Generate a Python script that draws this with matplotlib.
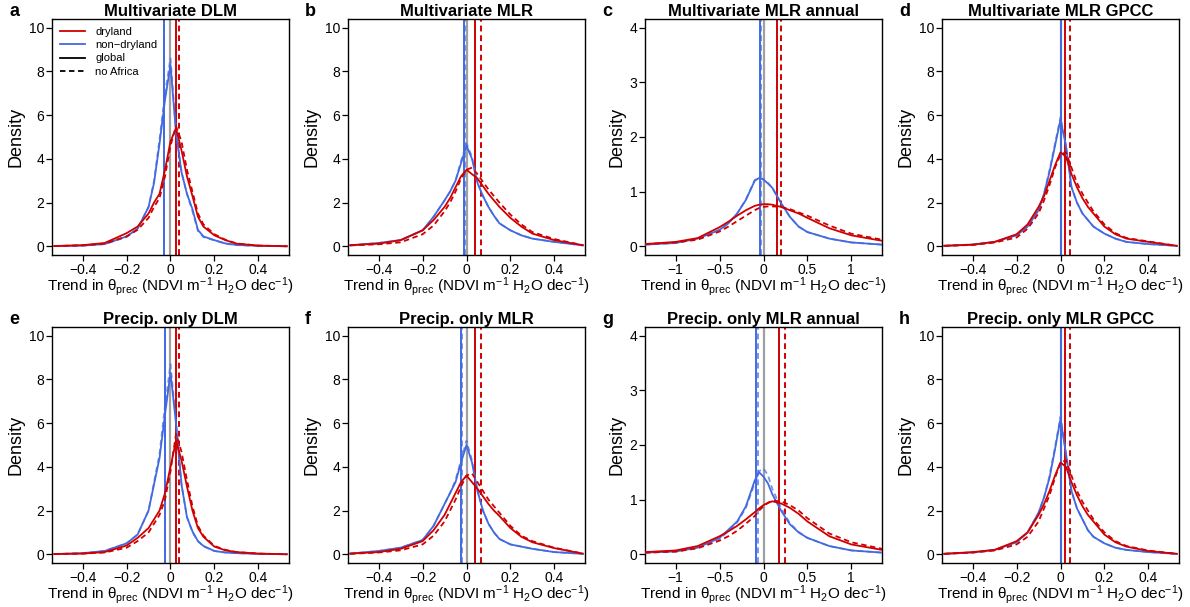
import matplotlib
matplotlib.use("Agg")
import matplotlib.pyplot as plt
from matplotlib.lines import Line2D

plt.rcParams['font.family'] = ['Liberation Sans', 'DejaVu Sans']
plt.rcParams['mathtext.default'] = 'regular'

# x grids of the density curves
xs = [-0.53, -0.4, -0.3, -0.2, -0.15, -0.1, -0.075, -0.05, -0.025, 0, 0.025,
      0.05, 0.075, 0.1, 0.125, 0.15, 0.2, 0.25, 0.3, 0.4, 0.53]
xl = [-1.35, -1.0, -0.75, -0.5, -0.4, -0.3, -0.2, -0.1, -0.05, 0, 0.05, 0.1,
      0.2, 0.3, 0.4, 0.5, 0.75, 1.0, 1.35]

# a  Multivariate DLM
a_dry    = [0.01, 0.05, 0.15, 0.6, 0.9, 1.5, 2.0, 2.4, 3.5, 4.8, 5.4, 4.4, 3.2, 2.3, 1.35, 0.9, 0.5, 0.28, 0.12, 0.03, 0.0]
a_dry_na = [0.01, 0.04, 0.12, 0.45, 0.75, 1.3, 1.8, 2.2, 3.2, 4.6, 5.5, 4.8, 3.5, 2.5, 1.5, 1.0, 0.55, 0.3, 0.13, 0.03, 0.0]
a_wet    = [0.01, 0.03, 0.1, 0.45, 0.8, 1.8, 2.9, 4.7, 6.7, 8.3, 5.2, 3.4, 2.4, 1.7, 0.75, 0.45, 0.28, 0.13, 0.06, 0.02, 0.0]
a_wet_na = [0.01, 0.03, 0.1, 0.42, 0.8, 1.8, 3.0, 4.9, 7.0, 8.6, 5.3, 3.4, 2.4, 1.6, 0.7, 0.42, 0.27, 0.12, 0.05, 0.02, 0.0]
# b  Multivariate MLR
b_dry    = [0.05, 0.12, 0.28, 0.73, 1.2, 1.8, 2.2, 2.7, 3.2, 3.5, 3.3, 3.1, 2.75, 2.4, 2.1, 1.8, 1.3, 0.9, 0.58, 0.28, 0.05]
b_dry_na = [0.04, 0.09, 0.18, 0.55, 0.95, 1.6, 2.0, 2.5, 3.1, 3.5, 3.6, 3.3, 2.95, 2.6, 2.3, 2.0, 1.45, 1.0, 0.65, 0.33, 0.05]
b_wet    = [0.04, 0.15, 0.28, 0.73, 1.35, 2.1, 2.5, 3.0, 3.8, 4.6, 4.0, 2.9, 2.3, 1.8, 1.4, 1.05, 0.73, 0.5, 0.35, 0.2, 0.04]
b_wet_na = [0.04, 0.15, 0.28, 0.73, 1.35, 2.1, 2.5, 3.0, 3.9, 4.7, 4.1, 2.9, 2.3, 1.8, 1.4, 1.05, 0.73, 0.5, 0.35, 0.2, 0.04]
# c  Multivariate MLR annual
c_dry    = [0.04, 0.08, 0.15, 0.35, 0.45, 0.56, 0.66, 0.74, 0.76, 0.77, 0.77, 0.76, 0.72, 0.66, 0.6, 0.52, 0.33, 0.2, 0.1]
c_dry_na = [0.04, 0.07, 0.12, 0.27, 0.36, 0.46, 0.56, 0.66, 0.7, 0.72, 0.73, 0.73, 0.72, 0.68, 0.62, 0.56, 0.38, 0.23, 0.12]
c_wet    = [0.03, 0.06, 0.14, 0.3, 0.42, 0.6, 0.85, 1.2, 1.25, 1.22, 1.15, 1.07, 0.79, 0.54, 0.36, 0.26, 0.14, 0.07, 0.03]
c_wet_na = [0.03, 0.06, 0.14, 0.3, 0.42, 0.6, 0.86, 1.21, 1.26, 1.23, 1.16, 1.07, 0.79, 0.54, 0.36, 0.26, 0.14, 0.07, 0.03]
# d  Multivariate MLR GPCC
d_dry    = [0.02, 0.07, 0.2, 0.55, 1.0, 1.8, 2.3, 3.0, 3.7, 4.3, 4.1, 3.3, 2.7, 2.2, 1.8, 1.5, 0.9, 0.55, 0.35, 0.2, 0.02]
d_dry_na = [0.02, 0.06, 0.17, 0.4, 0.8, 1.5, 2.1, 2.8, 3.6, 4.2, 4.3, 3.6, 2.9, 2.4, 2.0, 1.6, 1.0, 0.6, 0.38, 0.22, 0.02]
d_wet    = [0.02, 0.08, 0.2, 0.5, 0.9, 1.65, 2.4, 3.4, 4.6, 5.8, 4.6, 2.7, 2.0, 1.5, 1.2, 0.9, 0.58, 0.35, 0.2, 0.1, 0.02]
d_wet_na = [0.02, 0.08, 0.2, 0.5, 0.9, 1.65, 2.4, 3.5, 4.7, 5.9, 4.6, 2.7, 2.0, 1.5, 1.2, 0.9, 0.58, 0.35, 0.2, 0.1, 0.02]
# e  Precip. only DLM
e_dry    = [0.01, 0.03, 0.1, 0.4, 0.75, 1.2, 1.6, 2.0, 2.8, 4.0, 5.2, 4.3, 3.1, 2.0, 1.2, 0.8, 0.35, 0.18, 0.1, 0.03, 0.0]
e_dry_na = [0.01, 0.03, 0.08, 0.3, 0.6, 1.0, 1.4, 1.8, 2.5, 3.8, 5.5, 4.7, 3.4, 2.2, 1.3, 0.85, 0.38, 0.2, 0.1, 0.03, 0.0]
e_wet    = [0.01, 0.05, 0.15, 0.5, 0.9, 2.0, 3.2, 4.4, 6.4, 8.3, 6.0, 3.2, 1.7, 1.05, 0.6, 0.38, 0.15, 0.08, 0.05, 0.02, 0.0]
e_wet_na = [0.01, 0.05, 0.15, 0.5, 0.9, 2.0, 3.3, 4.6, 6.8, 8.7, 6.1, 3.2, 1.7, 1.0, 0.6, 0.36, 0.15, 0.08, 0.05, 0.02, 0.0]
# f  Precip. only MLR
f_dry    = [0.03, 0.1, 0.25, 0.6, 1.1, 1.8, 2.3, 2.8, 3.3, 3.6, 3.3, 3.0, 2.65, 2.3, 2.0, 1.75, 1.2, 0.8, 0.55, 0.28, 0.03]
f_dry_na = [0.02, 0.08, 0.18, 0.45, 0.85, 1.5, 2.0, 2.5, 3.1, 3.6, 3.7, 3.3, 2.9, 2.5, 2.2, 1.9, 1.3, 0.85, 0.6, 0.3, 0.03]
f_wet    = [0.03, 0.15, 0.3, 0.65, 1.3, 2.3, 2.8, 3.3, 4.2, 5.0, 4.2, 2.9, 2.0, 1.4, 1.0, 0.7, 0.45, 0.35, 0.25, 0.1, 0.02]
f_wet_na = [0.03, 0.15, 0.3, 0.65, 1.3, 2.3, 2.8, 3.4, 4.3, 5.2, 4.3, 2.9, 2.0, 1.4, 1.0, 0.7, 0.45, 0.35, 0.25, 0.1, 0.02]
# g  Precip. only MLR annual
g_dry    = [0.04, 0.07, 0.15, 0.33, 0.42, 0.52, 0.64, 0.77, 0.84, 0.9, 0.94, 0.97, 0.93, 0.85, 0.74, 0.6, 0.33, 0.18, 0.08]
g_dry_na = [0.03, 0.05, 0.11, 0.25, 0.33, 0.43, 0.56, 0.7, 0.8, 0.88, 0.94, 0.98, 0.97, 0.9, 0.8, 0.66, 0.38, 0.22, 0.1]
g_wet    = [0.03, 0.05, 0.12, 0.3, 0.45, 0.6, 0.88, 1.35, 1.5, 1.42, 1.3, 1.1, 0.8, 0.55, 0.4, 0.3, 0.15, 0.07, 0.03]
g_wet_na = [0.03, 0.05, 0.12, 0.28, 0.42, 0.58, 0.85, 1.3, 1.52, 1.57, 1.45, 1.2, 0.85, 0.57, 0.41, 0.3, 0.15, 0.07, 0.03]
# h  Precip. only MLR GPCC
h_dry    = [0.02, 0.1, 0.2, 0.6, 1.0, 1.8, 2.3, 2.9, 3.6, 4.2, 4.0, 3.3, 2.7, 2.2, 1.8, 1.5, 0.9, 0.55, 0.35, 0.15, 0.02]
h_dry_na = [0.02, 0.08, 0.17, 0.45, 0.8, 1.5, 2.1, 2.7, 3.5, 4.2, 4.3, 3.6, 2.9, 2.4, 2.0, 1.6, 1.0, 0.6, 0.38, 0.17, 0.02]
h_wet    = [0.02, 0.08, 0.2, 0.55, 1.0, 1.9, 2.6, 3.5, 4.8, 6.2, 4.6, 2.9, 2.1, 1.6, 1.1, 0.8, 0.5, 0.3, 0.2, 0.1, 0.02]
h_wet_na = [0.02, 0.08, 0.2, 0.55, 1.0, 1.9, 2.6, 3.6, 4.9, 6.3, 4.6, 2.9, 2.1, 1.6, 1.1, 0.8, 0.5, 0.3, 0.2, 0.1, 0.02]

# mean trends: dryland, dryland no Africa, non-dryland, non-dryland no Africa
a_means = [0.023, 0.038, -0.03, -0.028]
b_means = [0.041, 0.068, -0.011, -0.008]
c_means = [0.15, 0.2, -0.035, -0.03]
d_means = [0.022, 0.042, 0.0, 0.002]
e_means = [0.026, 0.041, -0.027, -0.025]
f_means = [0.038, 0.066, -0.026, -0.02]
g_means = [0.18, 0.24, -0.085, -0.06]
h_means = [0.022, 0.042, 0.0, 0.002]

letters = ['a', 'b', 'c', 'd', 'e', 'f', 'g', 'h']
titles = ['Multivariate DLM', 'Multivariate MLR', 'Multivariate MLR annual', 'Multivariate MLR GPCC',
          'Precip. only DLM', 'Precip. only MLR', 'Precip. only MLR annual', 'Precip. only MLR GPCC']

panels = [
    (xs, a_dry, a_dry_na, a_wet, a_wet_na, a_means),
    (xs, b_dry, b_dry_na, b_wet, b_wet_na, b_means),
    (xl, c_dry, c_dry_na, c_wet, c_wet_na, c_means),
    (xs, d_dry, d_dry_na, d_wet, d_wet_na, d_means),
    (xs, e_dry, e_dry_na, e_wet, e_wet_na, e_means),
    (xs, f_dry, f_dry_na, f_wet, f_wet_na, f_means),
    (xl, g_dry, g_dry_na, g_wet, g_wet_na, g_means),
    (xs, h_dry, h_dry_na, h_wet, h_wet_na, h_means),
]

RED = '#d00000'
BLUE = '#4169e1'
GREY = '#a0a0a0'

W, H = 1190, 607
fig = plt.figure(figsize=(W / 100, H / 100), dpi=100)

lefts = [52, 348, 645, 942]
tops = [19, 327]
aw, ah = 237, 236

for i, (x, dry, dry_na, wet, wet_na, means) in enumerate(panels):
    row, col = divmod(i, 4)
    l, t = lefts[col], tops[row]
    ax = fig.add_axes([l / W, 1 - (t + ah) / H, aw / W, ah / H])
    annual = x is xl

    ax.axvline(0, color=GREY, lw=1.6, zorder=1)
    ax.axvline(means[2], color=BLUE, lw=1.4, zorder=2)
    ax.axvline(means[3], color=BLUE, lw=1.4, ls=(0, (3, 2)), alpha=0.7, zorder=2)
    ax.axvline(means[0], color=RED, lw=1.4, zorder=2)
    ax.axvline(means[1], color=RED, lw=1.4, ls=(0, (3, 2)), zorder=2)

    ax.plot(x, wet_na, color=BLUE, lw=1.3, ls=(0, (3, 2)), alpha=0.7, zorder=3)
    ax.plot(x, wet, color=BLUE, lw=1.3, zorder=3)
    ax.plot(x, dry_na, color=RED, lw=1.3, ls=(0, (3, 2)), zorder=4)
    ax.plot(x, dry, color=RED, lw=1.3, zorder=4)

    if annual:
        ax.set_xlim(-1.35, 1.35)
        ax.set_ylim(-0.16, 4.16)
        ax.set_xticks([-1, -0.5, 0, 0.5, 1])
        ax.set_xticklabels(['\u22121', '\u22120.5', '0', '0.5', '1'])
        ax.set_yticks([0, 1, 2, 3, 4])
    else:
        ax.set_xlim(-0.54, 0.54)
        ax.set_ylim(-0.4, 10.4)
        ax.set_xticks([-0.4, -0.2, 0, 0.2, 0.4])
        ax.set_xticklabels(['\u22120.4', '\u22120.2', '0', '0.2', '0.4'])
        ax.set_yticks([0, 2, 4, 6, 8, 10])

    ax.tick_params(direction='out', length=4, width=0.9, labelsize=10, pad=1.5)
    for s in ax.spines.values():
        s.set_linewidth(1.0)

    ax.set_ylabel('Density', fontsize=13, labelpad=3)
    ax.set_xlabel('Trend in \u03b8$_{prec}$ (NDVI m$^{-1}$ H$_2$O dec$^{-1}$)', fontsize=11, labelpad=-1)
    ax.set_title(titles[i], fontsize=12, fontweight='bold', pad=2)
    fig.text((l - 43) / W, 1 - (t - 8) / H, letters[i], fontsize=13, fontweight='bold',
             ha='left', va='center')

    if i == 0:
        handles = [Line2D([], [], color=RED, lw=1.3),
                   Line2D([], [], color=BLUE, lw=1.3),
                   Line2D([], [], color='black', lw=1.3),
                   Line2D([], [], color='black', lw=1.3, ls=(0, (3, 2)))]
        ax.legend(handles, ['dryland', 'non\u2212dryland', 'global', 'no Africa'],
                  loc='upper left', frameon=False, fontsize=8, handlelength=2.3,
                  labelspacing=0.3, borderaxespad=0.3, handletextpad=0.9)

fig.savefig('out.png', dpi=100)
